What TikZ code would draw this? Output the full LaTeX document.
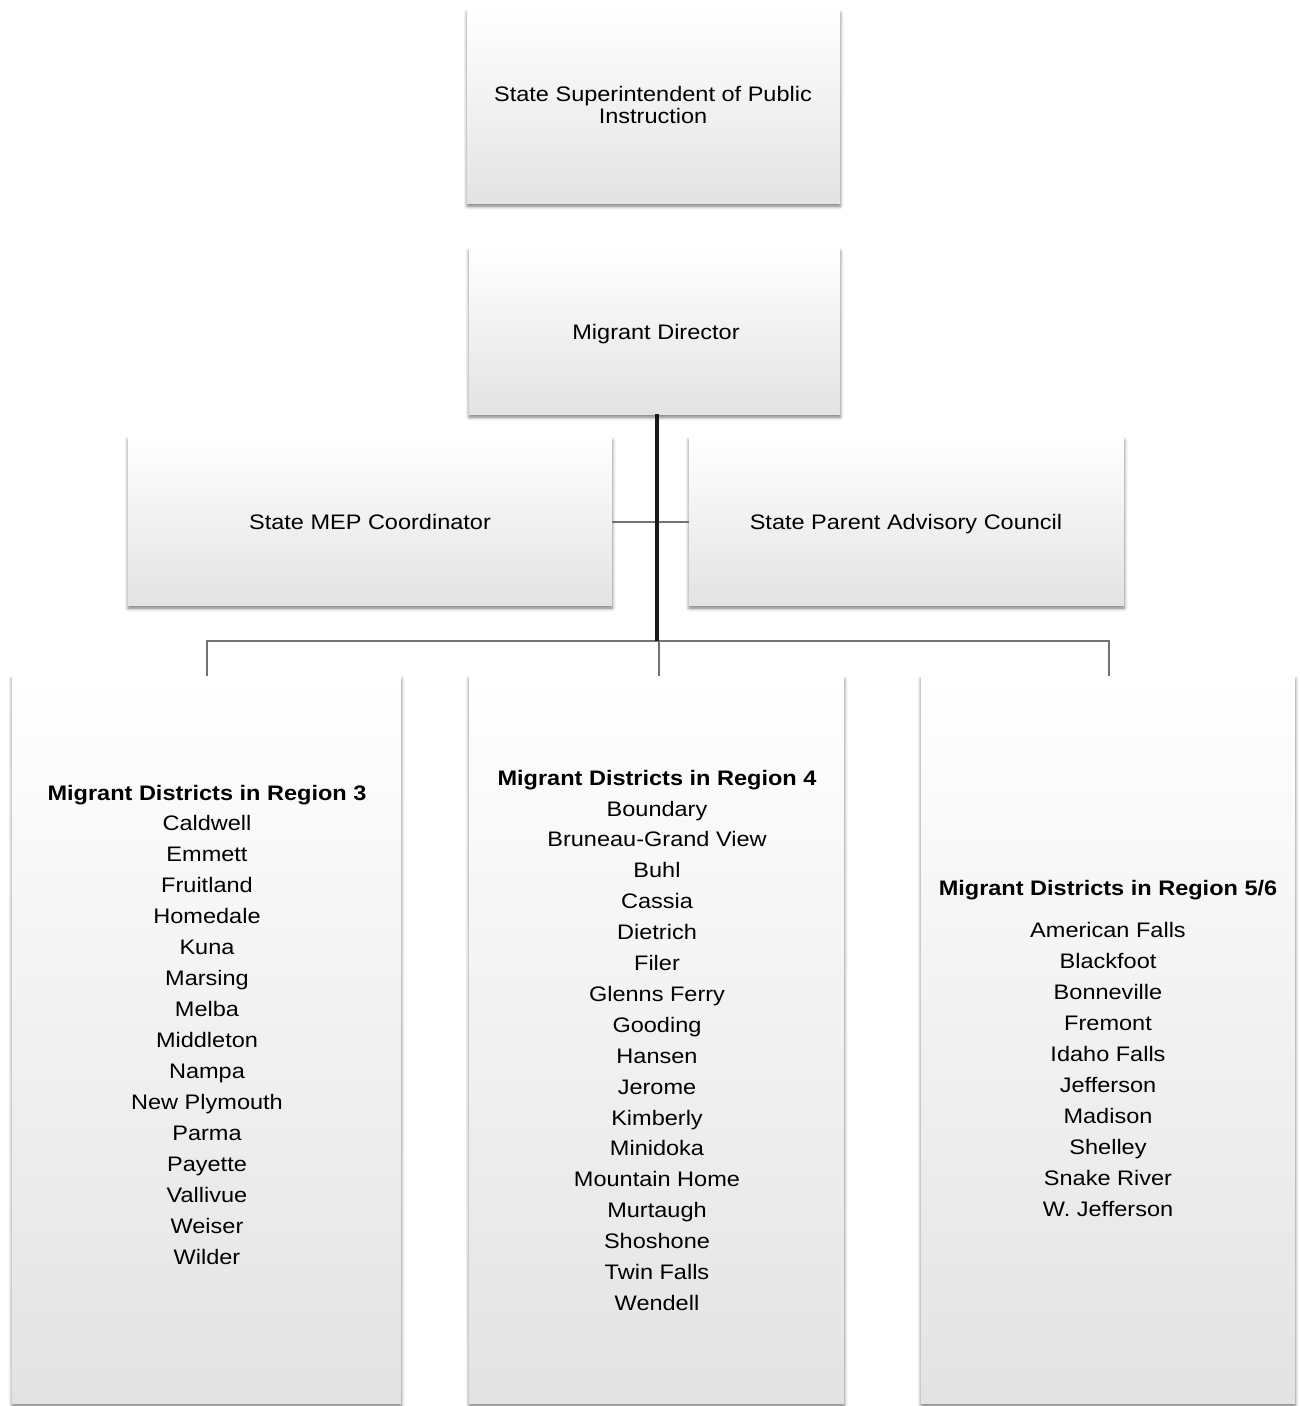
\documentclass[tikz,border=0pt]{standalone}
\usepackage{fontspec}
\setmainfont[FakeStretch=1.12]{Liberation Sans}
\usetikzlibrary{shadows.blur}
\begin{document}
\begin{tikzpicture}[x=1pt,y=-1pt,
  box/.style={inner sep=0pt, top color=white, middle color=white, bottom color=black!11,
    blur shadow={shadow xshift=0pt, shadow yshift=-3pt, shadow blur radius=3.5pt, shadow opacity=55}},
  lbl/.style={anchor=base, inner sep=0pt, font=\fontsize{21}{25}\selectfont},
  hd/.style={lbl, font=\fontsize{21}{25}\selectfont\bfseries},
  thick line/.style={line width=3.4pt, black!90},
  thin line/.style={line width=2pt, black!55}]
\useasboundingbox (0,0) rectangle (1299,1406);
% boxes
\path[box] (467,10) rectangle (840,203);
\path[box] (469,248) rectangle (840,414);
\path[box] (128,437) rectangle (612,605);
\path[box] (689,437) rectangle (1124,605);
\path[box] (12,676) rectangle (401,1403);
\path[box] (469,676) rectangle (844,1403);
\path[box] (921,676) rectangle (1295,1403);
% named anchor coordinates
\coordinate (dirB) at (657,414);
\coordinate (mepR) at (612,522);
\coordinate (spacL) at (689,522);
\coordinate (bus) at (657,641);
\coordinate (r3T) at (207,676);
\coordinate (r4T) at (659,676);
\coordinate (r5T) at (1109,676);
% texts
\node[lbl] (sup1) at (653,101) {State Superintendent of Public};
\node[lbl] (sup2) at (653,123) {Instruction};
\node[lbl] (dir) at (656,339) {Migrant Director};
\node[lbl] (mep) at (370,529) {State MEP Coordinator};
\node[lbl] (spac) at (906,529) {State Parent Advisory Council};
% connectors
\draw[thin line] (mepR) -- (spacL);
\draw[thin line] (r3T) |- (bus) -| (r5T);
\draw[thin line] (bus -| r4T) -- (r4T);
\draw[thick line] (dirB) -- (bus);
% region 3
\node[hd] (h3) at (207,800) {Migrant Districts in Region 3};
\foreach \t [count=\i from 0] in {Caldwell,Emmett,Fruitland,Homedale,Kuna,Marsing,Melba,Middleton,Nampa,New Plymouth,Parma,Payette,Vallivue,Weiser,Wilder}
  \node[lbl] (r3-\i) at (207,{830+31*\i}) {\t};
% region 4
\node[hd] (h4) at (657,785) {Migrant Districts in Region 4};
\foreach \t [count=\i from 0] in {Boundary,Bruneau-Grand View,Buhl,Cassia,Dietrich,Filer,Glenns Ferry,Gooding,Hansen,Jerome,Kimberly,Minidoka,Mountain Home,Murtaugh,Shoshone,Twin Falls,Wendell}
  \node[lbl] (r4-\i) at (657,{816+30.9*\i}) {\t};
% region 5/6
\node[hd] (h5) at (1108,895) {Migrant Districts in Region 5/6};
\foreach \t [count=\i from 0] in {American Falls,Blackfoot,Bonneville,Fremont,Idaho Falls,Jefferson,Madison,Shelley,Snake River,W. Jefferson}
  \node[lbl] (r5-\i) at (1108,{937+31*\i}) {\t};
\end{tikzpicture}
\end{document}
